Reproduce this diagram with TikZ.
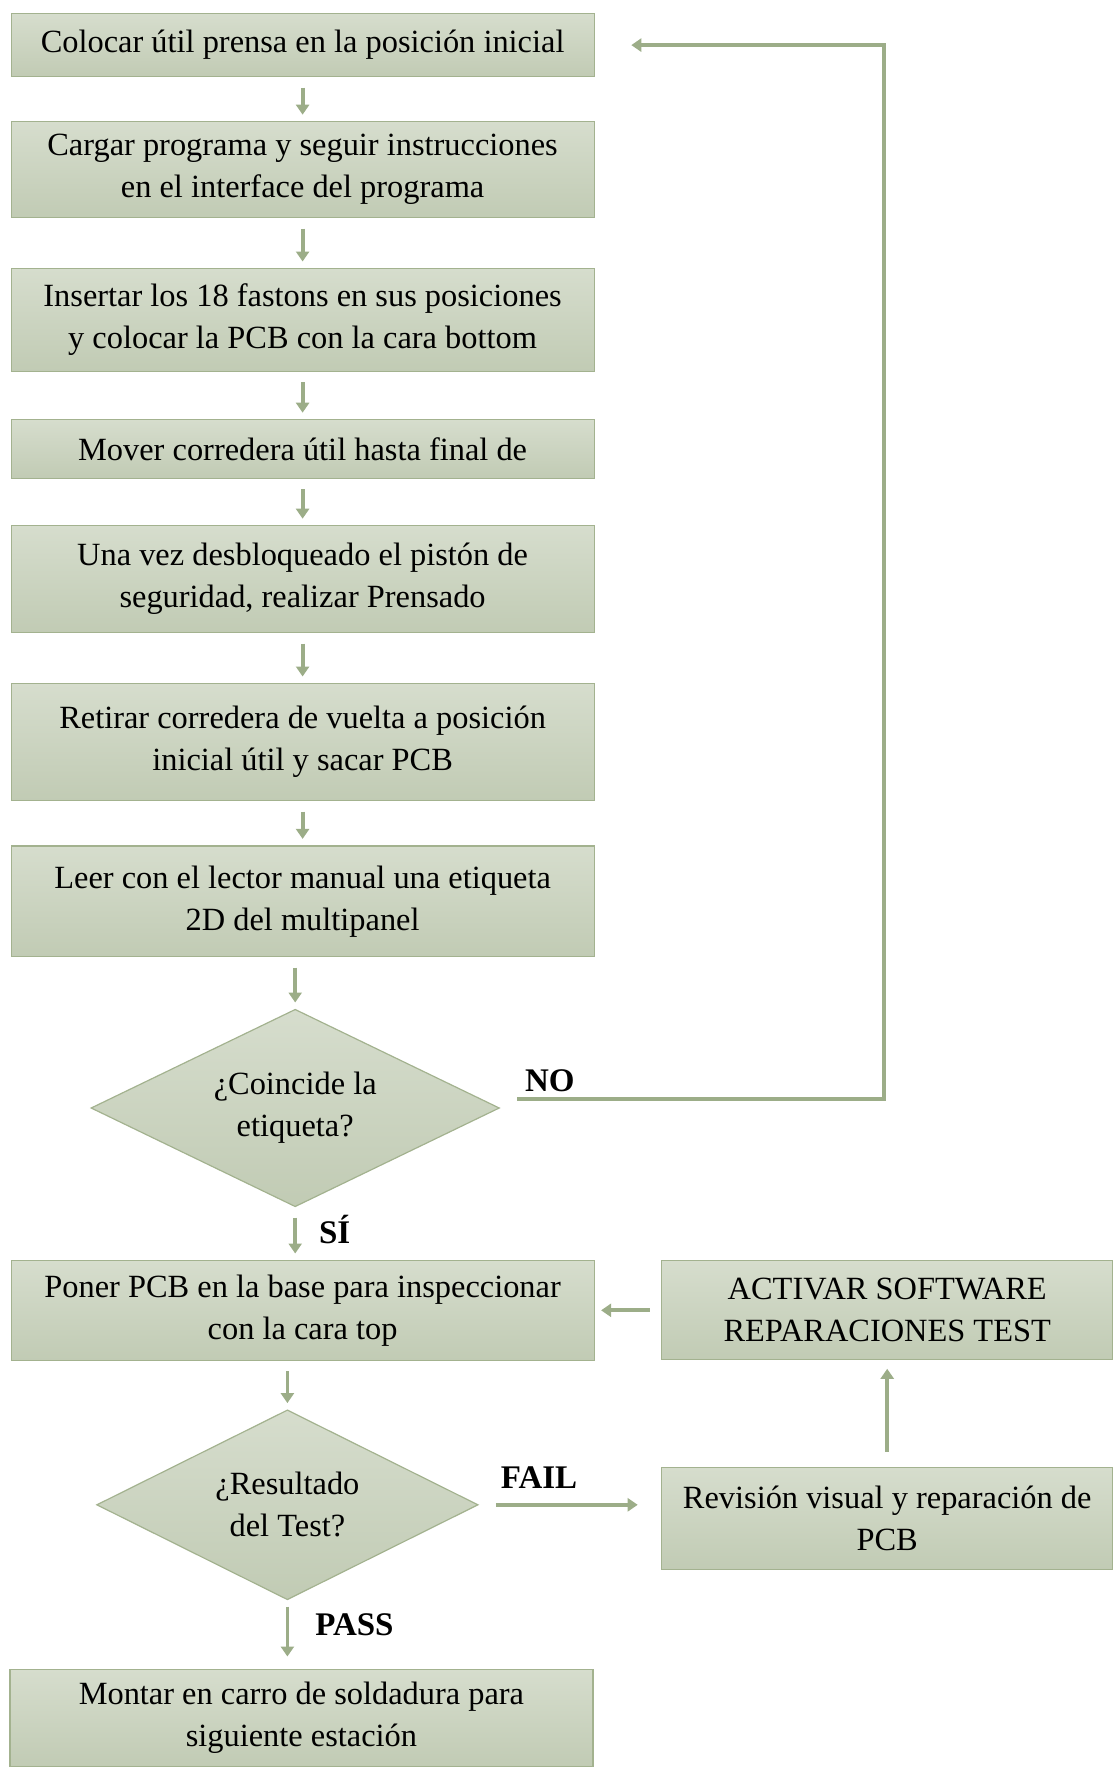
\documentclass[tikz,border=0pt]{standalone}
\usepackage{fontspec}
\setmainfont{Liberation Serif}
\usetikzlibrary{arrows.meta,shapes.geometric,positioning}

\definecolor{boxtop}{RGB}{214,221,205}
\definecolor{boxbottom}{RGB}{193,203,180}
\definecolor{boxline}{RGB}{163,178,143}
\definecolor{linkgreen}{RGB}{156,173,136}

\begin{document}
\begin{tikzpicture}[shorten >=3.5pt,shorten <=5.5pt,font=\fontsize{16.2}{21}\selectfont]

    \tikzstyle{block}=[draw=boxline,line width=0.6pt,top color=boxtop,bottom color=boxbottom,
                       align=center,minimum width=291.5pt,inner sep=4pt,outer sep=0pt]
    \tikzstyle{decision}=[diamond,draw=boxline,line width=0.6pt,top color=boxtop,bottom color=boxbottom,
                          align=center,inner sep=0pt,outer sep=0pt]
    \tikzstyle{link}=[draw=linkgreen,line width=1.9pt,-{Triangle[width=6.5pt,length=5pt]}]
    \tikzstyle{every edge}=[link]
    \tikzstyle{answer}=[font=\fontsize{16.5}{18}\selectfont\bfseries,inner sep=0pt]

    \useasboundingbox (0,0) rectangle (558pt,-883.5pt);

    \node[block,minimum height=31.6pt] (place) at (151.3pt,-22.55pt)
        {Colocar útil prensa en la posición inicial};
    \node[block,minimum height=48pt]   (load)    [below=22.5pt of place]
        {Cargar programa y seguir instrucciones\\en el interface del programa};
    \node[block,minimum height=51.3pt] (insert)  [below=25.4pt of load]
        {Insertar los 18 fastons en sus posiciones\\y colocar la PCB con la cara bottom};
    \node[block,minimum height=29.3pt] (slide)   [below=24.3pt of insert]
        {Mover corredera útil hasta final de};
    \node[block,minimum height=53.5pt] (press)   [below=23.7pt of slide]
        {Una vez desbloqueado el pistón de\\seguridad, realizar Prensado};
    \node[block,minimum height=58.6pt] (retract) [below=25.4pt of press]
        {Retirar corredera de vuelta a posición\\inicial útil y sacar PCB};
    \node[block,minimum height=55.3pt] (read)    [below=22.6pt of retract]
        {Leer con el lector manual una etiqueta\\2D del multipanel};
    \node[decision,aspect=2.07,minimum width=204pt,minimum height=98.5pt] (match)
        [below=26.5pt of read,xshift=-3.7pt] {¿Coincide la\\etiqueta?};
    \node[block,minimum height=49.8pt] (inspect) [below=27pt of match,xshift=3.7pt]
        {Poner PCB en la base para inspeccionar\\con la cara top};
    \node[decision,aspect=2.01,minimum width=190.5pt,minimum height=94.7pt] (result)
        [below=25pt of inspect,xshift=-7.6pt] {¿Resultado\\del Test?};
    \node[block,minimum height=48.7pt] (mount)   [below=35pt of result,xshift=7pt]
        {Montar en carro de soldadura para\\siguiente estación};
    \node[block,minimum width=225.5pt,minimum height=49.5pt] (software) [right=33.8pt of inspect]
        {ACTIVAR SOFTWARE\\REPARACIONES TEST};
    \node[block,minimum width=225.5pt,minimum height=50.8pt] (repair)   [below=54pt of software]
        {Revisión visual y reparación de\\PCB};

    \path
    (place)   edge (load)
    (load)    edge (insert)
    (insert)  edge (slide)
    (slide)   edge (press)
    (press)   edge (retract)
    (retract) edge (read)
    (match.north |- read.south) edge (match)
    (match)   edge node[answer,right=11pt,yshift=2pt] {SÍ} (match.south |- inspect.north)
    (result.north |- inspect.south) edge (result)
    (result)  edge [shorten <=3.5pt,shorten >=6.5pt]
                   node[answer,right=13pt,yshift=5pt] {PASS} (result.south |- mount.north)
    (result.east) edge [shorten <=9pt,shorten >=12pt]
                  node[answer,pos=0,anchor=south west,xshift=10.5pt,yshift=7pt] {FAIL}
                  (result.east -| repair.west)
    (repair)  edge [shorten <=8pt,shorten >=4.5pt] (software)
    (software) edge [shorten <=6pt,shorten >=3.5pt] (inspect);

    % vuelta al inicio si la etiqueta no coincide
    \draw[link,shorten <=0pt,shorten >=0pt]
        ([xshift=9pt,yshift=4.5pt]match.east)
        node[answer,anchor=south west,xshift=3pt,yshift=2.5pt] {NO}
        -| ([xshift=-1.5pt]software.center |- place.east) -- ([xshift=18.6pt]place.east);
  \end{tikzpicture}
\end{document}
